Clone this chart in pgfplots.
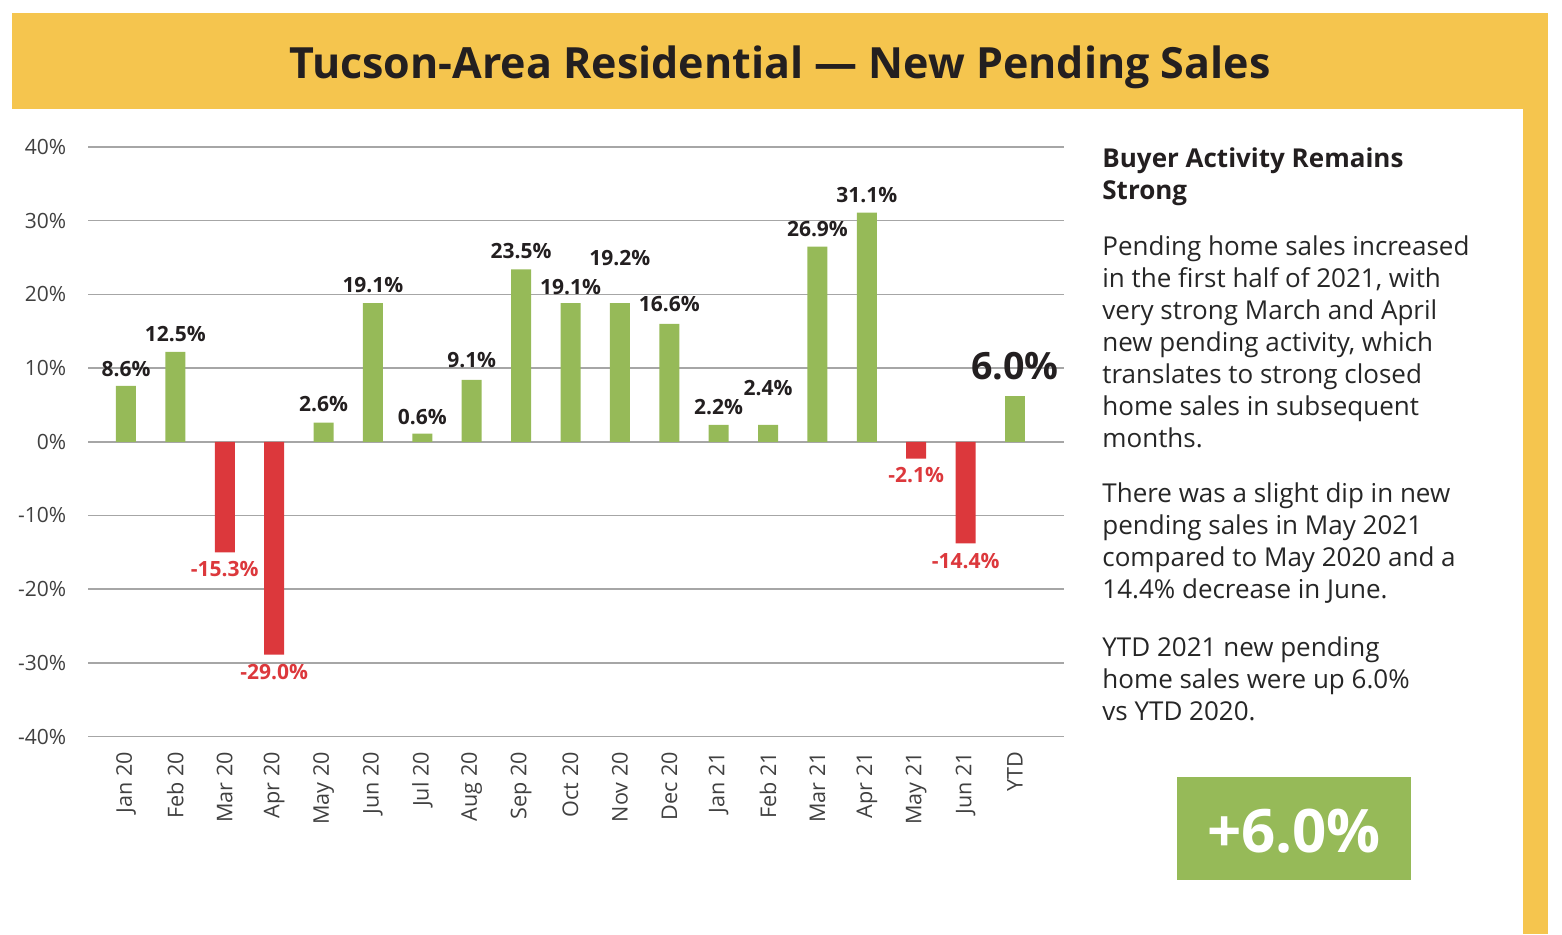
\documentclass[border=0pt]{standalone}
\usepackage{pgfplots}
\pgfplotsset{compat=1.18}
\usepackage{pgfplotstable}
\usepackage{fontspec}
\setmainfont{Open Sans}

\definecolor{barg}{HTML}{96BA58}
\definecolor{barr}{HTML}{DC383C}
\definecolor{band}{HTML}{F5C54E}
\definecolor{darktext}{HTML}{231F20}
\definecolor{bodytext}{HTML}{262626}
\definecolor{tickgray}{HTML}{404040}
\definecolor{gridgray}{HTML}{A6A6A6}

\pgfplotsset{/pgf/number format/assume math mode=true}

% x = month index, y = bar height as drawn, lab = printed label, dy = label offset (pt)
\pgfplotstableread{
x  y     lab   dy
0  7.6   8.6   8.5
1  12.2  12.5  9
4  2.6   2.6   9.5
5  18.8  19.1  9
6  1.1   0.6   8.5
7  8.4   9.1   10
8  23.4  23.5  9
9  18.8  19.1  8
10 18.8  19.2  22.5
11 16.0  16.6  10
12 2.3   2.2   9
13 2.3   2.4   18.5
14 26.5  26.9  8.5
15 31.1  31.1  9
}\greentab

\pgfplotstableread{
x  y      lab    dy
2  -15.0  -15.3  -8.5
3  -28.9  -29.0  -8.5
16 -2.3   -2.1   -8
17 -13.8  -14.4  -9
}\redtab

\pgfplotstableread{
x  y    lab  dy
18 6.2  6.0  15
}\ytdtab

\newcommand{\bodyline}[2]{\node[anchor=base west, inner sep=0pt, text=bodytext,
  font=\fontsize{13}{16}\selectfont] at (551pt,{(934-#1)*0.5pt}) {#2};}
\newcommand{\headline}[2]{\node[anchor=base west, inner sep=0pt, text=darktext,
  font=\bfseries\fontsize{13}{16}\selectfont] at (551pt,{(934-#1)*0.5pt}) {#2};}

\begin{document}
\begin{tikzpicture}
  \path (0pt,0pt) rectangle (781pt,467pt);
  % title band and right strip
  \fill[band] (6pt,412.65pt) rectangle (773.85pt,460.5pt);
  \fill[band] (761.5pt,0pt) rectangle (773.85pt,412.65pt);
  \node[anchor=base, inner sep=0pt, text=darktext, font=\bfseries\fontsize{21.5}{26}\selectfont]
    at (390pt,427.5pt) {Tucson-Area Residential — New Pending Sales};

  \begin{axis}[
    at={(44.15pt,98.75pt)}, anchor=south west,
    scale only axis, width=487.7pt, height=294.75pt,
    xmin=-0.763, xmax=18.986, ymin=-40, ymax=40,
    ytick={-40,-30,-20,-10,0,10,20,30,40},
    yticklabels={-40\%,-30\%,-20\%,-10\%,0\%,10\%,20\%,30\%,40\%},
    xtick={0,...,18},
    xticklabels={Jan 20,Feb 20,Mar 20,Apr 20,May 20,Jun 20,Jul 20,Aug 20,Sep 20,Oct 20,Nov 20,Dec 20,Jan 21,Feb 21,Mar 21,Apr 21,May 21,Jun 21,YTD},
    axis line style={draw=none}, tick style={draw=none},
    ymajorgrids, major grid style={draw=gridgray, line width=0.75pt},
    ticklabel style={font=\fontsize{10.5}{12}\selectfont, text=tickgray},
    yticklabel style={anchor=east, xshift=-7.5pt},
    xticklabel style={rotate=90, anchor=east, font=\fontsize{10.8}{12}\selectfont},
    ybar, bar width=10pt,
    clip=false,
  ]
    \addplot[fill=barg, draw=none, bar shift=0pt,
      point meta=\thisrow{lab},
      visualization depends on={\thisrow{dy}\as\dy},
      nodes near coords={\pgfmathprintnumber[fixed,fixed zerofill,precision=1]{\pgfplotspointmeta}\%},
      every node near coord/.append style={anchor=center, yshift=\dy pt,
        font=\bfseries\fontsize{10.5}{12}\selectfont, text=darktext}]
      table[x=x,y=y] {\greentab};
    \addplot[fill=barr, draw=none, bar shift=0pt,
      point meta=\thisrow{lab},
      visualization depends on={\thisrow{dy}\as\dy},
      nodes near coords={\pgfmathprintnumber[fixed,fixed zerofill,precision=1]{\pgfplotspointmeta}\%},
      every node near coord/.append style={anchor=center, yshift=\dy pt,
        font=\bfseries\fontsize{10.5}{12}\selectfont, text=barr}]
      table[x=x,y=y] {\redtab};
    \addplot[fill=barg, draw=none, bar shift=0pt,
      point meta=\thisrow{lab},
      visualization depends on={\thisrow{dy}\as\dy},
      nodes near coords={\pgfmathprintnumber[fixed,fixed zerofill,precision=1]{\pgfplotspointmeta}\%},
      every node near coord/.append style={anchor=center, yshift=\dy pt,
        font=\bfseries\fontsize{18.8}{22}\selectfont, text=darktext}]
      table[x=x,y=y] {\ytdtab};
  \end{axis}

  % side text
  \headline{167.3}{Buyer Activity Remains}
  \headline{199.3}{Strong}
  \bodyline{255}{Pending home sales increased}
  \bodyline{287}{in the first half of 2021, with}
  \bodyline{319}{very strong March and April}
  \bodyline{351}{new pending activity, which}
  \bodyline{383}{translates to strong closed}
  \bodyline{415}{home sales in subsequent}
  \bodyline{447}{months.}
  \bodyline{502.7}{There was a slight dip in new}
  \bodyline{534.7}{pending sales in May 2021}
  \bodyline{566.7}{compared to May 2020 and a}
  \bodyline{598.7}{14.4\% decrease in June.}
  \bodyline{656.7}{YTD 2021 new pending}
  \bodyline{688.7}{home sales were up 6.0\%}
  \bodyline{720.7}{vs YTD 2020.}

  % YTD box
  \fill[barg] (588.5pt,27pt) rectangle (705.5pt,78.5pt);
  \node[anchor=base, inner sep=0pt, text=white, font=\bfseries\fontsize{30}{36}\selectfont]
    at (647pt,40.85pt) {+6.0\%};
\end{tikzpicture}
\end{document}
